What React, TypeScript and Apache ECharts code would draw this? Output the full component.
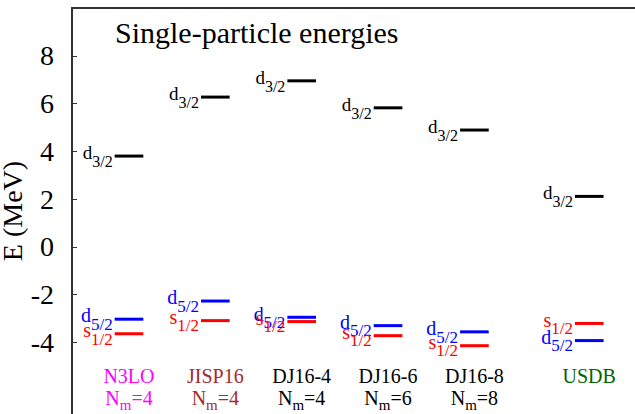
import React, { useEffect, useRef } from "react";
import * as echarts from "echarts";

const models = ["N3LO", "JISP16", "DJ16-4", "DJ16-6", "DJ16-8", "USDB"];
const nmaxLabels = ["4", "4", "4", "6", "8", ""];
const modelColors = ["#ff00ff", "#a52a2a", "#000000", "#000000", "#000000", "#006400"];
const xPositions = [1, 2, 3, 4, 5, 6.33];
const d32 = [3.8, 6.27, 6.95, 5.82, 4.89, 2.1117];
const d52 = [-3.03, -2.27, -2.95, -3.3, -3.56, -3.9257];
const s12 = [-3.64, -3.09, -3.13, -3.72, -4.14, -3.2079];
const yTicks = [-4, -2, 0, 2, 4, 6, 8];

const FONT = "Liberation Serif";
const HALF = 0.166;
const CENTRAL = 0.3375;

let measureCtx: CanvasRenderingContext2D | null = null;
function textWidth(t: string, fs: number): number {
  if (!measureCtx) measureCtx = document.createElement("canvas").getContext("2d");
  if (!measureCtx) return t.length * fs * 0.5;
  measureCtx.font = `${fs}px "Liberation Serif"`;
  return measureCtx.measureText(t).width;
}

function txt(text: string, x: number, baseline: number, fs: number, fill: string, align: string) {
  return {
    type: "text",
    style: {
      text,
      x,
      y: baseline - CENTRAL * fs,
      fontSize: fs,
      fontFamily: FONT,
      fill,
      align,
      verticalAlign: "middle",
    },
  };
}

function levelRenderer(color: string, main: string, sub: string, mainFs: number, subFs: number) {
  return (params: any, api: any) => {
    const x = api.value(0);
    const e = api.value(1);
    const a = api.coord([x - HALF, e]);
    const b = api.coord([x + HALF, e]);
    const subW = textWidth(sub, subFs);
    const xr = a[0] - 2;
    return {
      type: "group",
      children: [
        {
          type: "line",
          shape: { x1: a[0], y1: a[1], x2: b[0], y2: b[1] },
          style: { stroke: color, lineWidth: 3 },
        },
        txt(sub, xr, a[1] + 11, subFs, color, "right"),
        txt(main, xr - subW, a[1] + 3, mainFs, color, "right"),
      ],
    };
  };
}

function modelLabelRenderer(params: any, api: any) {
  const i = params.dataIndex;
  const x = api.value(0);
  const p = api.coord([x, api.value(1)]);
  const color = modelColors[i];
  const children: any[] = [txt(models[i], p[0], p[1], 20, color, "center")];
  if (nmaxLabels[i]) {
    const rest = "=" + nmaxLabels[i];
    const wN = textWidth("N", 20);
    const wm = textWidth("m", 15);
    const wr = textWidth(rest, 20);
    const start = p[0] - (wN + wm + wr) / 2;
    const base2 = p[1] + 22;
    children.push(txt("N", start, base2, 20, color, "left"));
    children.push(txt("m", start + wN, base2 + 5, 15, color, "left"));
    children.push(txt(rest, start + wN + wm, base2, 20, color, "left"));
  }
  return { type: "group", children };
}

export default function App() {
  const ref = useRef<HTMLDivElement>(null);
  useEffect(() => {
    if (!ref.current) return;
    const chart = echarts.init(ref.current, null, { renderer: "svg" });
    chart.setOption({
      animation: false,
      backgroundColor: "#ffffff",
      textStyle: { fontFamily: FONT },
      grid: {
        left: 72,
        top: 8,
        right: 0,
        bottom: 0,
        containLabel: false,
        outerBoundsMode: "none",
      },
      xAxis: {
        type: "value",
        position: "top",
        min: 0.34,
        max: 6.86,
        axisLine: { show: true, onZero: false, lineStyle: { color: "#333", width: 2 } },
        axisTick: { show: false },
        axisLabel: { show: false },
        splitLine: { show: false },
      },
      yAxis: {
        type: "value",
        min: -7,
        max: 10,
        name: "E (MeV)",
        nameLocation: "middle",
        nameRotate: 90,
        nameGap: 46,
        nameMoveOverlap: false,
        nameTextStyle: { fontFamily: FONT, fontSize: 28, color: "#000" },
        axisLine: { show: true, onZero: false, lineStyle: { color: "#333", width: 2 } },
        axisTick: {
          show: true,
          inside: true,
          length: 5,
          customValues: yTicks,
          lineStyle: { color: "#333", width: 1 },
        },
        axisLabel: {
          customValues: yTicks,
          margin: 18,
          fontFamily: FONT,
          fontSize: 28,
          color: "#000",
        },
        splitLine: { show: false },
      },
      graphic: [
        {
          type: "text",
          style: {
            text: "Single-particle energies",
            x: 115,
            y: 43 - CENTRAL * 30,
            fontSize: 30,
            fontFamily: FONT,
            fill: "#000",
            align: "left",
            verticalAlign: "middle",
          },
        },
      ],
      series: [
        {
          type: "custom",
          name: "d3/2",
          clip: false,
          data: d32.map((v, i) => [xPositions[i], v]),
          renderItem: levelRenderer("#000000", "d", "3/2", 19, 16),
        },
        {
          type: "custom",
          name: "d5/2",
          clip: false,
          data: d52.map((v, i) => [xPositions[i], v]),
          renderItem: levelRenderer("#0000ff", "d", "5/2", 20, 17),
        },
        {
          type: "custom",
          name: "s1/2",
          clip: false,
          data: s12.map((v, i) => [xPositions[i], v]),
          renderItem: levelRenderer("#ff0000", "s", "1/2", 20, 17),
        },
        {
          type: "custom",
          name: "models",
          clip: false,
          data: models.map((m, i) => [xPositions[i], -5.7]),
          renderItem: modelLabelRenderer,
        },
      ],
    });
    return () => chart.dispose();
  }, []);
  return (
    <div
      ref={ref}
      style={{ position: "absolute", left: 0, top: 0, width: 635, height: 414 }}
    />
  );
}
